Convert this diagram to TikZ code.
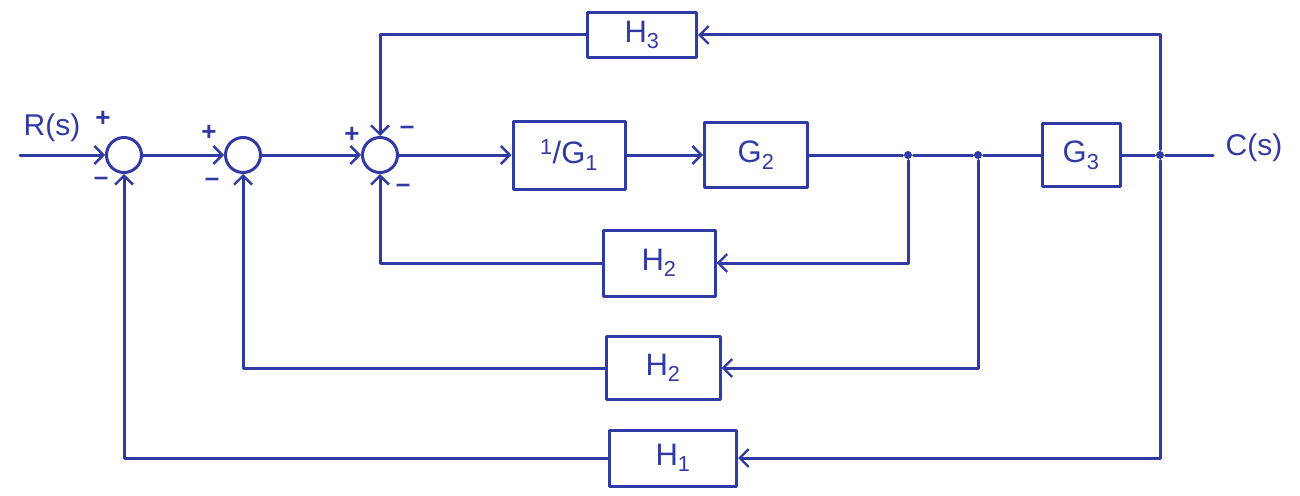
\documentclass[tikz,border=0pt]{standalone}
\usepackage{fontspec}
\setmainfont{Liberation Sans}
\usetikzlibrary{arrows.meta}
\definecolor{ink}{RGB}{48,58,165}
\begin{document}
\begin{tikzpicture}[x=1pt,y=-1pt,
  every path/.style={draw=ink,line width=3pt,line join=round,line cap=round},
  flow/.style={-{Straight Barb[length=9pt,width=18pt,line width=2.4pt]}},
  sumnode/.style={circle,draw=ink,line width=3pt,minimum size=35pt,inner sep=0pt},
  blockbox/.style={rectangle,draw=ink,line width=3pt,inner sep=0pt,font=\fontsize{31}{33}\selectfont,text=ink},
  lbl/.style={text=ink,font=\fontsize{30}{32}\selectfont,inner sep=0pt},
  sgn/.style={text=ink,font=\fontsize{26}{26}\selectfont\bfseries,inner sep=0pt},
  dot/.style={circle,fill=ink,draw=none,minimum size=8pt,inner sep=0pt}]
\useasboundingbox[draw=none] (0,0) rectangle (1300,495);

% summing junctions
\node[sumnode] (s1) at (124,155) {};
\node[sumnode] (s2) at (243,155) {};
\node[sumnode] (s3) at (380,155) {};

% forward blocks
\node[blockbox,minimum width=112pt,minimum height=68pt] (g1) at (569,155) {\textsuperscript{1}/G\textsubscript{1}};
\node[blockbox,minimum width=103pt,minimum height=65pt] (g2) at (756,155) {G\textsubscript{2}};
\node[blockbox,minimum width=78pt,minimum height=63pt] (g3) at (1081,155) {G\textsubscript{3}};

% feedback blocks
\node[blockbox,minimum width=109pt,minimum height=45pt] (h3) at (642,35) {H\textsubscript{3}};
\node[blockbox,minimum width=112pt,minimum height=66pt] (h2a) at (659,263) {H\textsubscript{2}};
\node[blockbox,minimum width=114pt,minimum height=63pt] (h2b) at (663,368) {H\textsubscript{2}};
\node[blockbox,minimum width=127pt,minimum height=56pt] (h1) at (673,458) {H\textsubscript{1}};

% junction points
\node[dot] (j1) at (908,155) {};
\node[dot] (j2) at (978,155) {};
\node[dot] (j3) at (1160,155) {};
\coordinate (rin) at (20,155);
\coordinate (cout) at (1213,155);

% labels
\node[lbl] (rlab) at (52,128) {R(s)};
\node[lbl] (clab) at (1254,148) {C(s)};

% signs
\node[sgn] (p1) at (103,119) {+};
\node[sgn] (m1) at (101,181) {–};
\node[sgn] (p2) at (209,133) {+};
\node[sgn] (m2) at (212,182) {–};
\node[sgn] (p3) at (352,135) {+};
\node[sgn] (m3a) at (407,130) {–};
\node[sgn] (m3b) at (403,188) {–};

% forward path
\draw[flow] (rin) -- (s1.west);
\draw[flow] (s1.east) -- (s2.west);
\draw[flow] (s2.east) -- (s3.west);
\draw[flow] (s3.east) -- (g1.west);
\draw[flow] (g1.east) -- (g2.west);
\draw (g2.east) -- (j1) -- (j2) -- (g3.west);
\draw (g3.east) -- (j3) -- (cout);

% feedback paths
\draw[flow] (j3) |- (h3.east);
\draw[flow] (h3.west) -| (s3.north);
\draw[flow] (j1) |- (h2a.east);
\draw[flow] (h2a.west) -| (s3.south);
\draw[flow] (j2) |- (h2b.east);
\draw[flow] (h2b.west) -| (s2.south);
\draw[flow] (j3) |- (h1.east);
\draw[flow] (h1.west) -| (s1.south);
\end{tikzpicture}
\end{document}
